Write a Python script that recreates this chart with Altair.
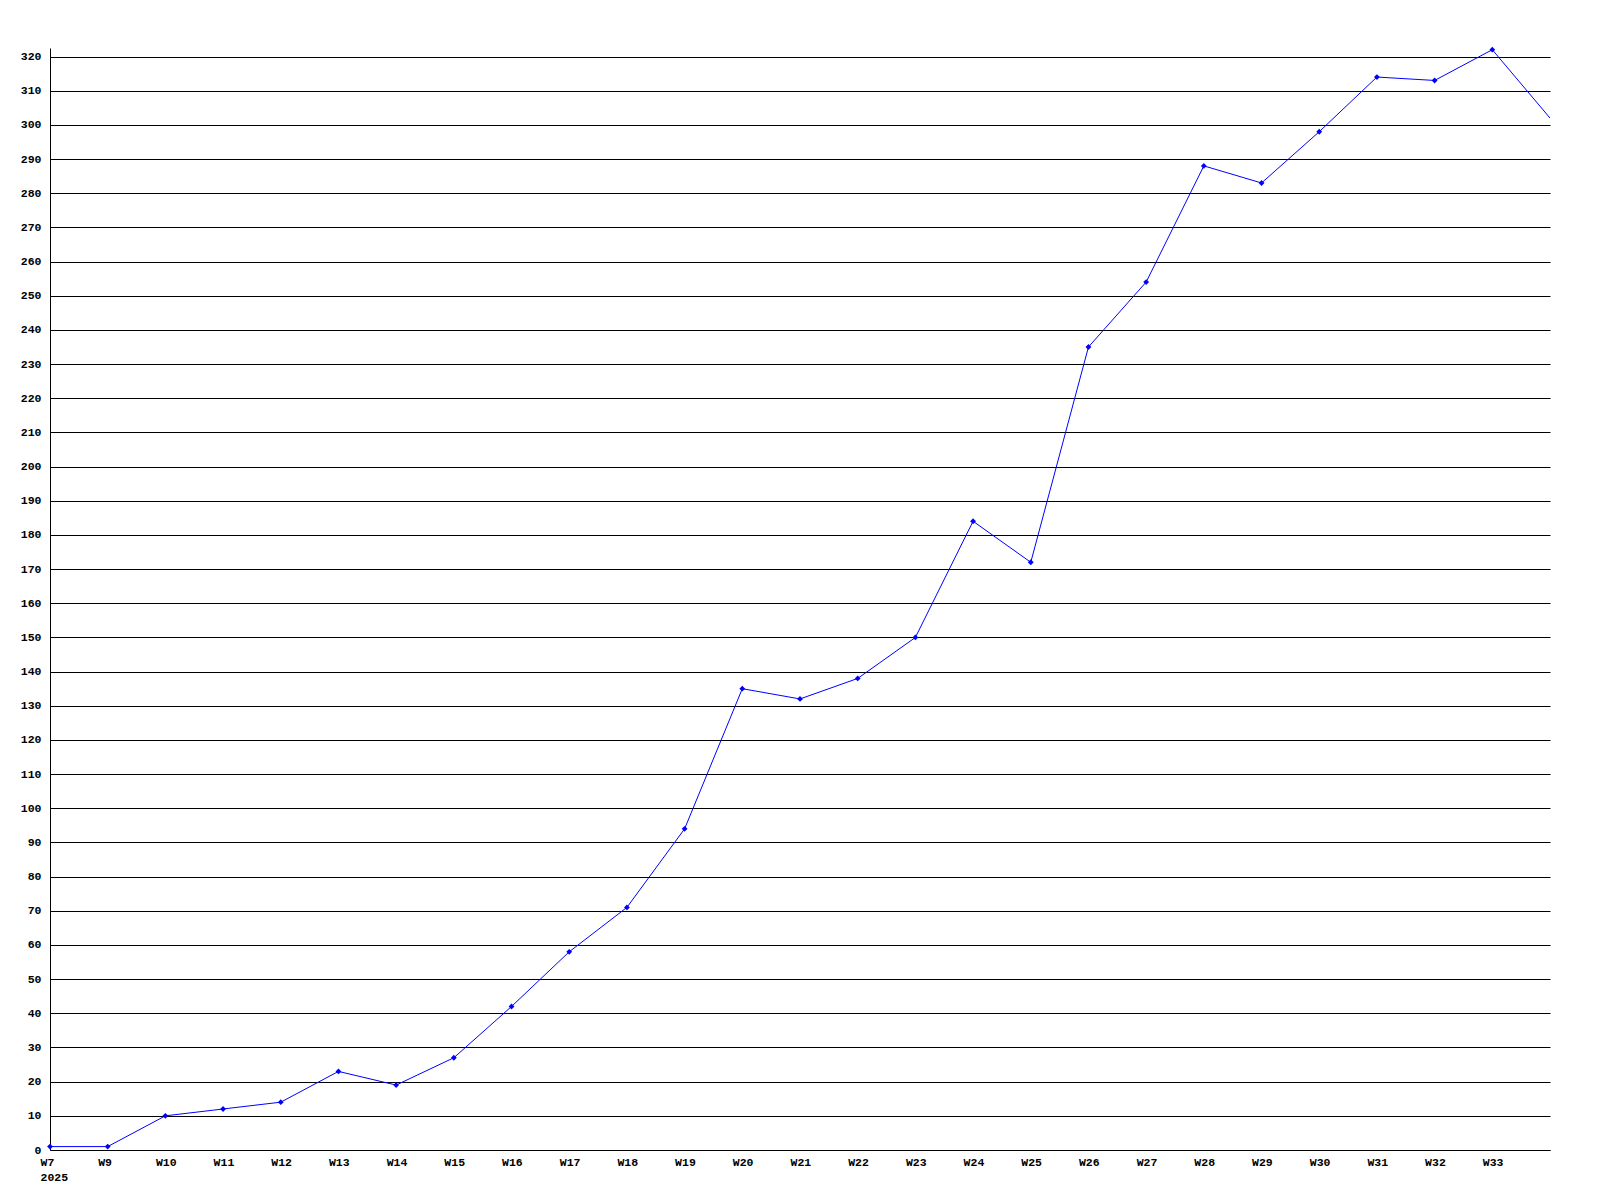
import altair as alt
import pandas as pd

weeks = ["W7", "W9", "W10", "W11", "W12", "W13", "W14", "W15", "W16", "W17",
         "W18", "W19", "W20", "W21", "W22", "W23", "W24", "W25", "W26", "W27",
         "W28", "W29", "W30", "W31", "W32", "W33", "W34"]
values = [1, 1, 10, 12, 14, 23, 19, 27, 42, 58,
          71, 94, 135, 132, 138, 150, 184, 172, 235, 254,
          288, 283, 298, 314, 313, 322, 302]
year_label = "2025"

df = pd.DataFrame({"i": list(range(len(weeks))), "week": weeks, "value": values})

n_labels = len(weeks) - 1
label_list = "[" + ",".join("'" + w + "'" for w in weeks) + "]"
label_expr = ("datum.value == 0 ? ['" + weeks[0] + "','" + year_label + "'] : "
              "(datum.value < " + str(n_labels) + " ? " + label_list + "[datum.value] : '')")

FONT = "Liberation Mono"

x_enc = alt.X(
    "i:Q",
    scale=alt.Scale(domain=[0, len(weeks) - 1], nice=False, zero=False),
    axis=alt.Axis(
        values=list(range(n_labels)),
        labelExpr=label_expr,
        grid=False,
        ticks=False,
        domainColor="black",
        domainWidth=1,
        labelFont=FONT,
        labelFontWeight="bold",
        labelFontSize=11.5,
        labelColor="black",
        labelAlign="left",
        labelBaseline="top",
        labelOffset=-10,
        labelPadding=6,
        labelLineHeight=15,
        labelOverlap=False,
        labelFlush=False,
        title=None,
    ),
)
y_enc = alt.Y(
    "value:Q",
    scale=alt.Scale(domain=[0, 322.5], nice=False),
    axis=alt.Axis(
        values=list(range(0, 330, 10)),
        grid=True,
        gridColor="black",
        gridWidth=1,
        gridOpacity=1,
        ticks=False,
        domainColor="black",
        domainWidth=1,
        labelFont=FONT,
        labelFontWeight="bold",
        labelFontSize=11.5,
        labelColor="black",
        labelPadding=9,
        labelOverlap=False,
        labelFlush=False,
        title=None,
    ),
)

base = alt.Chart(df).encode(x=x_enc, y=y_enc)

line = base.mark_line(color="#0000ff", strokeWidth=1, clip=True)
points = base.transform_filter(f"datum.i < {n_labels}").mark_point(
    shape="diamond", filled=True, color="#0000ff", size=34, opacity=1
)

chart = (
    alt.layer(line, points)
    .properties(
        width=1500,
        height=1102,
        autosize=alt.AutoSizeParams(type="none"),
        padding={"left": 42, "top": 40, "right": 10, "bottom": 40},
        background="white",
    )
    .configure_view(stroke=None)
)

chart.save("out.html", embed_options={"renderer": "svg", "actions": False})
